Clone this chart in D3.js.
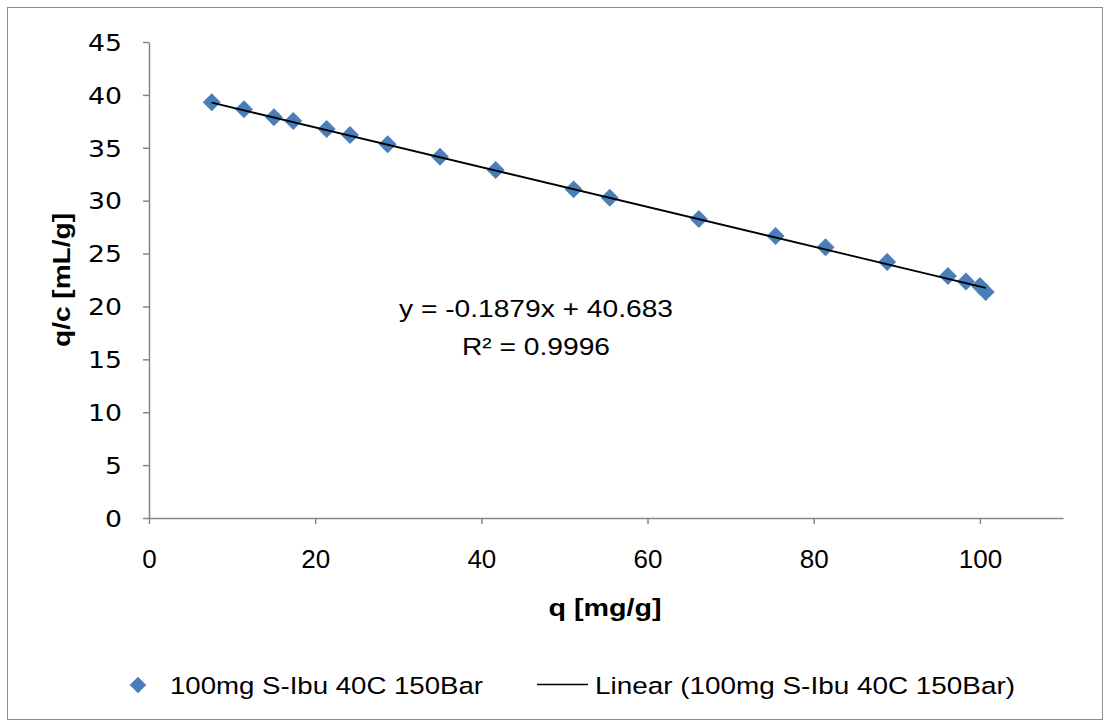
<!DOCTYPE html>
<html><head><meta charset="utf-8">
<script src="https://cdn.jsdelivr.net/npm/d3@7"></script>
<style>html,body{margin:0;padding:0;background:#fff;}</style>
</head><body>
<svg id="c" width="1108" height="726"></svg>
<script>
const qValues = [7.55, 11.43, 15.04, 17.36, 21.38, 24.19, 28.72, 35.02, 41.72, 51.10, 55.45, 66.17, 75.41, 81.42, 88.84, 96.15, 98.32, 100.0, 100.7];
const qcValues = [39.30, 38.64, 37.88, 37.53, 36.77, 36.21, 35.33, 34.16, 32.90, 31.07, 30.28, 28.27, 26.66, 25.59, 24.21, 22.88, 22.36, 21.93, 21.37];
const xTicks = [0, 20, 40, 60, 80, 100];
const yTicks = [0, 5, 10, 15, 20, 25, 30, 35, 40, 45];
const slope = -0.1879, intercept = 40.683;
const eqText = "y = -0.1879x + 40.683";
const r2Text = "R² = 0.9996";
const xTitle = "q [mg/g]";
const yTitle = "q/c [mL/g]";
const seriesName = "100mg S-Ibu 40C 150Bar";
const trendName = "Linear (100mg S-Ibu 40C 150Bar)";

const svg = d3.select("#c");
const font = "'Liberation Sans', Arial, sans-serif";
const axisColor = "#868686";
const blue = "#4A7EBB";

svg.append("rect").attr("x",7.5).attr("y",7.5).attr("width",1095).attr("height",712)
  .attr("fill","#fff").attr("stroke","#8c8c8c").attr("stroke-width",1);

const x = d3.scaleLinear().domain([0,110]).range([149,1063]);
const y = d3.scaleLinear().domain([0,45]).range([518,42]);

// axes
const xa = svg.append("g").attr("transform","translate(0,518)")
  .call(d3.axisBottom(x).tickValues(xTicks).tickSize(6).tickSizeOuter(0));
xa.select(".domain").attr("stroke",axisColor).attr("stroke-width",1.5);
xa.selectAll(".tick line").attr("stroke",axisColor).attr("stroke-width",1.5);
xa.selectAll(".tick text").attr("font-family",font).attr("font-size",26).attr("fill","#000")
  .attr("y",50).attr("dy",0);

const ya = svg.append("g").attr("transform","translate(149,0)")
  .call(d3.axisLeft(y).tickValues(yTicks).tickSize(6).tickSizeOuter(0));
ya.select(".domain").attr("stroke",axisColor).attr("stroke-width",1.5);
ya.selectAll(".tick line").attr("stroke",axisColor).attr("stroke-width",1.5);
ya.selectAll(".tick text").attr("font-family","'DejaVu Sans', sans-serif").attr("font-size",23).attr("fill","#000")
  .attr("x",-27).attr("dy","0.36em")
  .attr("textLength", d => String(d).length*17).attr("lengthAdjust","spacingAndGlyphs");

// axis titles
svg.append("text").attr("x",605).attr("y",616).attr("text-anchor","middle")
  .attr("font-family",font).attr("font-weight","bold").attr("font-size",24)
  .attr("textLength",113).attr("lengthAdjust","spacingAndGlyphs").text(xTitle);
svg.append("text").attr("transform","translate(70,280) rotate(-90)").attr("text-anchor","middle")
  .attr("font-family",font).attr("font-weight","bold").attr("font-size",24)
  .attr("textLength",134).attr("lengthAdjust","spacingAndGlyphs").text(yTitle);

// points
const pts = qValues.map((q,i)=>({q, v: qcValues[i]}));
const diamond = d3.symbol().type(d3.symbolDiamond2).size(205);
svg.append("g").selectAll("path").data(pts).join("path")
  .attr("d", diamond)
  .attr("transform", d=>`translate(${x(d.q)},${y(d.v)})`)
  .attr("fill", blue);

// trendline
const xmin = d3.min(qValues), xmax = d3.max(qValues);
svg.append("path").datum([xmin,xmax])
  .attr("d", d3.line().x(d=>x(d)).y(d=>y(slope*d+intercept)))
  .attr("stroke","#000").attr("stroke-width",1.8).attr("fill","none");

// equation
svg.append("text").attr("x",399).attr("y",317)
  .attr("font-family",font).attr("font-size",24)
  .attr("textLength",274).attr("lengthAdjust","spacingAndGlyphs").text(eqText);
svg.append("text").attr("x",462).attr("y",355)
  .attr("font-family",font).attr("font-size",24)
  .attr("textLength",148).attr("lengthAdjust","spacingAndGlyphs").text(r2Text);

// legend
svg.append("path").attr("d", d3.symbol().type(d3.symbolDiamond2).size(175))
  .attr("transform","translate(138,685)").attr("fill",blue);
svg.append("text").attr("x",170).attr("y",694).attr("font-family",font).attr("font-size",24.5)
  .attr("textLength",313).attr("lengthAdjust","spacingAndGlyphs").text(seriesName);
svg.append("line").attr("x1",537).attr("x2",588).attr("y1",684.5).attr("y2",684.5).attr("stroke","#000").attr("stroke-width",1.5);
svg.append("text").attr("x",595).attr("y",694).attr("font-family",font).attr("font-size",24.5)
  .attr("textLength",420).attr("lengthAdjust","spacingAndGlyphs").text(trendName);
</script>
</body></html>
